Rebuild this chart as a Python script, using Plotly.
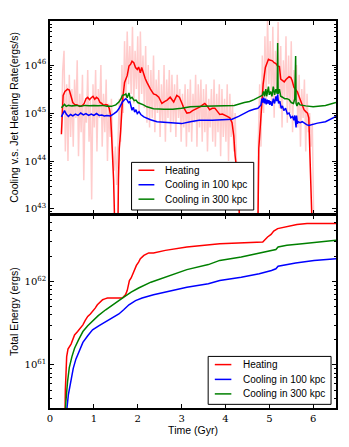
import plotly.graph_objects as go

# ---------------- Top panel: rates (log10 erg/s) ----------------
heat_t = [0.26,0.28,0.30,0.34,0.40,0.44,0.48,0.52,0.56,0.62,0.68,0.74,0.78,0.82,0.86,0.90,0.94,0.98,1.02,1.06,1.10,1.14,1.18,1.22,1.27,1.31,1.35,1.38,1.40,1.42,1.45,1.48,1.50,1.53,1.56,1.58,1.61,1.63,1.65,1.70,1.76,1.80,1.84,1.87,1.91,1.95,1.99,2.02,2.06,2.09,2.13,2.17,2.21,2.25,2.29,2.36,2.42,2.48,2.55,2.61,2.67,2.74,2.78,2.82,2.89,2.95,3.00,3.04,3.12,3.19,3.25,3.30,3.36,3.42,3.48,3.53,3.58,3.64,3.70,3.76,3.82,3.87,3.93,3.98,4.04,4.10,4.15,4.19,4.22,4.27,4.31,4.35,4.72,4.76,4.79,4.84,4.86,4.91,4.98,5.03,5.07,5.11,5.15,5.19,5.23,5.26,5.30,5.34,5.38,5.41,5.45,5.49,5.52,5.56,5.60,5.64,5.68,5.73,5.79,5.83,5.87,5.90,5.92,5.94,5.97,6.00,6.03]
heat_log = [44.56,45.2,45.37,45.45,45.50,45.48,45.35,45.22,45.18,45.17,45.14,45.16,45.20,45.30,45.33,45.28,45.32,45.35,45.29,45.33,45.30,45.22,45.20,45.16,45.18,45.17,45.10,44.96,44.62,44.27,43.6,42.5,41.0,41.0,43.6,44.27,44.62,45.0,45.23,45.64,45.78,45.98,46.02,46.08,46.05,45.95,45.91,45.96,45.84,45.95,45.82,45.72,45.64,45.55,45.50,45.40,45.38,45.33,45.20,45.24,45.27,45.33,45.28,45.23,45.37,45.33,45.22,45.13,45.00,45.01,45.05,45.07,45.10,45.13,45.17,45.20,45.15,45.07,45.10,45.10,45.03,44.97,44.98,44.95,44.93,44.90,44.80,44.52,44.11,43.70,43.16,41.0,41.0,44.26,44.66,45.13,45.61,45.95,46.12,46.10,46.09,46.05,46.03,45.98,45.97,45.71,45.68,45.65,45.70,45.72,45.76,45.74,45.68,45.54,45.48,45.44,45.34,45.20,45.07,45.03,45.00,44.90,44.55,44.11,43.70,43.16,41.0]

c100_t = [0.26,0.30,0.33,0.37,0.42,0.47,0.52,0.58,0.64,0.70,0.76,0.82,0.88,0.94,1.00,1.06,1.12,1.18,1.24,1.30,1.38,1.46,1.52,1.57,1.62,1.65,1.70,1.73,1.76,1.79,1.82,1.85,1.87,1.90,1.93,1.96,1.99,2.03,2.07,2.14,2.21,2.29,2.44,2.60,2.82,3.00,3.20,3.40,3.70,3.95,4.15,4.30,4.43,4.55,4.65,4.74,4.81,4.83,4.85,4.87,4.89,4.91,4.93,4.95,4.97,4.99,5.01,5.03,5.06,5.09,5.12,5.15,5.17,5.19,5.21,5.24,5.27,5.30,5.33,5.37,5.41,5.45,5.49,5.53,5.56,5.58,5.60,5.61,5.62,5.64,5.66,5.70,5.75,5.80,5.85,5.90,6.00,6.10,6.28,6.40,6.52]
c100_log = [44.92,45.00,45.05,44.98,44.93,44.97,44.94,44.98,44.95,45.00,44.96,44.99,44.95,44.98,44.95,44.99,44.95,44.96,44.94,44.95,44.94,44.99,45.03,45.09,45.18,45.23,45.28,45.30,45.27,45.22,45.24,45.15,45.06,45.12,45.02,45.07,44.99,45.03,44.97,44.92,44.89,44.86,44.82,44.81,44.79,44.78,44.82,44.85,44.85,44.86,44.87,44.93,45.00,45.05,45.08,45.10,45.17,45.30,45.22,45.32,45.20,45.30,45.18,45.28,45.20,45.27,45.17,45.25,45.15,45.30,45.20,45.35,45.25,45.39,45.20,45.25,45.10,45.15,45.05,45.10,44.98,45.00,44.90,44.93,44.85,44.95,44.79,44.70,44.95,44.78,44.82,44.80,44.82,44.78,44.76,44.74,44.77,44.79,44.82,44.87,44.93]

c300_t = [0.26,0.30,0.33,0.37,0.42,0.50,0.60,0.70,0.80,0.90,1.00,1.10,1.20,1.30,1.40,1.50,1.57,1.62,1.65,1.70,1.73,1.76,1.80,1.83,1.87,1.92,1.96,2.00,2.06,2.13,2.21,2.36,2.60,2.80,3.00,3.20,3.50,3.90,4.20,4.43,4.55,4.65,4.74,4.84,4.87,4.89,4.92,4.94,4.98,5.00,5.03,5.06,5.09,5.12,5.15,5.18,5.19,5.20,5.23,5.26,5.30,5.35,5.40,5.45,5.50,5.55,5.58,5.60,5.61,5.63,5.66,5.70,5.83,6.00,6.28,6.52]
c300_log = [45.11,45.16,45.18,45.14,45.16,45.15,45.16,45.14,45.16,45.15,45.16,45.15,45.16,45.14,45.14,45.17,45.23,45.30,45.37,45.38,45.40,45.32,45.42,45.30,45.33,45.26,45.27,45.22,45.20,45.17,45.13,45.09,45.08,45.08,45.10,45.13,45.14,45.15,45.16,45.22,45.24,45.28,45.33,45.37,45.45,45.35,45.50,45.35,45.55,45.38,45.45,45.35,45.55,45.38,45.50,45.40,46.46,45.40,45.50,45.35,45.33,45.30,45.30,45.28,45.22,45.20,45.30,46.19,45.20,45.15,45.22,45.17,45.15,45.13,45.16,45.22]

# raw (unsmoothed) jet heating rate, light pink
raw_t = [0.26,0.29,0.32,0.35,0.38,0.41,0.44,0.47,0.50,0.53,0.56,0.59,0.62,0.65,0.68,0.71,0.74,0.77,0.80,0.83,
         0.86,0.89,0.92,0.95,0.98,1.01,1.04,1.07,1.10,1.13,1.16,1.19,1.22,1.25,1.28,1.31,1.34,1.37,1.40,1.43,
         1.46,1.49,1.52,1.55,
         1.58,1.61,1.64,1.67,1.70,1.73,1.76,1.79,1.82,1.85,
         1.88,1.91,1.94,1.97,2.00,2.03,2.06,2.09,2.12,2.15,
         2.18,2.21,2.24,2.27,2.30,2.33,2.36,2.39,2.42,2.45,
         2.48,2.51,2.54,2.57,2.60,2.63,2.66,2.69,2.72,2.75,
         2.78,2.81,2.84,2.87,2.90,2.93,2.96,2.99,3.02,3.05,
         3.08,3.11,3.14,3.17,3.20,3.23,3.26,3.29,3.32,3.35,
         3.38,3.41,3.44,3.47,3.50,3.53,3.56,3.59,3.62,3.65,
         3.68,3.71,3.74,3.77,3.80,3.83,3.86,3.89,3.92,3.95,
         3.98,4.01,4.04,4.07,4.10,4.13,4.16,4.19,4.22,4.25,
         4.28,4.31,4.34,4.72,
         4.75,4.78,4.81,4.84,4.87,4.90,4.93,4.96,4.99,5.02,
         5.05,5.08,5.11,5.14,5.17,5.20,5.23,5.26,5.29,5.32,
         5.35,5.38,5.41,5.44,5.47,5.50,5.53,5.56,5.59,5.62,
         5.65,5.68,5.71,5.74,5.77,5.80,5.83,5.86,5.89,5.92,
         5.95,5.98,6.01,6.04]
raw_log = [44.6,45.9,46.3,44.2,45.6,44.0,45.8,44.5,45.5,44.3,45.7,44.9,46.1,44.1,45.4,44.6,45.8,43.6,45.2,44.8,
           45.9,44.4,45.3,43.2,45.6,44.7,45.9,44.2,45.5,44.9,46.0,44.3,45.4,44.6,45.7,44.0,45.2,44.5,45.3,44.2,
           43.8,44.3,43.5,44.6,
           45.3,44.4,46.0,45.0,46.5,45.3,46.7,45.6,46.4,45.4,
           46.8,45.2,46.3,45.5,46.6,45.0,46.7,45.4,46.2,45.1,
           46.4,44.8,46.0,44.7,45.9,44.9,46.2,44.6,45.7,45.0,
           45.9,44.5,45.6,44.8,46.0,44.4,45.7,44.9,45.9,44.6,
           45.8,44.8,45.6,44.5,45.8,44.9,45.5,44.4,45.4,44.7,
           45.6,44.3,45.5,44.6,45.7,44.4,45.4,44.8,45.8,44.3,
           45.6,44.7,45.7,44.4,45.5,44.6,45.6,44.2,45.3,44.7,
           45.5,44.4,45.7,44.3,45.4,44.6,45.6,44.1,45.5,44.5,
           45.3,44.4,45.6,44.0,45.4,44.5,45.2,44.2,45.0,44.0,
           43.8,43.4,41.0,41.0,
           44.5,45.6,44.3,46.2,45.0,46.6,45.3,47.0,45.6,46.5,
           45.2,46.8,44.9,46.3,45.5,46.9,45.1,46.4,44.7,46.1,
           45.3,46.6,44.8,46.2,45.0,46.5,44.6,45.9,45.2,46.0,
           44.7,45.8,44.3,45.5,44.9,45.7,44.2,45.4,44.6,45.0,
           44.3,44.8,43.6,41.0]

# ---------------- Bottom panel: cumulative energy (log10 erg) ----------------
eheat_t = [0.33,0.35,0.38,0.41,0.48,0.52,0.56,0.63,0.70,0.75,0.80,0.86,0.92,0.97,1.03,1.08,1.14,1.20,1.25,1.31,1.65,1.72,1.76,1.79,1.81,1.85,1.89,1.93,1.97,2.02,2.06,2.14,2.25,2.36,2.63,3.12,3.87,4.85,4.90,4.96,5.04,5.10,5.19,5.35,5.49,5.63,5.86,6.52]
eheat_log = [60.0,60.7,61.1,61.19,61.25,61.30,61.36,61.40,61.44,61.48,61.53,61.58,61.61,61.64,61.68,61.72,61.75,61.78,61.79,61.80,61.80,61.84,61.89,61.95,62.01,62.04,62.09,62.14,62.19,62.23,62.27,62.31,62.34,62.34,62.37,62.41,62.45,62.47,62.50,62.53,62.56,62.60,62.63,62.65,62.66,62.68,62.69,62.69]

e100_t = [0.35,0.38,0.42,0.48,0.53,0.59,0.67,0.75,0.86,0.97,1.12,1.27,1.42,1.57,1.68,1.80,1.95,2.10,2.36,2.63,3.12,3.61,3.87,4.36,4.77,5.05,5.15,5.20,5.40,5.60,6.02,6.52]
e100_log = [60.0,60.45,60.65,60.84,60.96,61.07,61.18,61.27,61.35,61.42,61.47,61.52,61.56,61.61,61.66,61.72,61.77,61.80,61.84,61.87,61.93,61.97,62.01,62.05,62.09,62.13,62.15,62.18,62.20,62.22,62.25,62.27]

e300_t = [0.32,0.36,0.40,0.44,0.50,0.56,0.65,0.75,0.86,0.97,1.10,1.27,1.45,1.65,1.85,2.02,2.30,2.63,3.12,3.61,3.87,4.36,4.77,5.05,5.15,5.20,5.40,5.75,6.10,6.52]
e300_log = [60.0,60.55,60.8,60.97,61.10,61.20,61.30,61.40,61.47,61.53,61.59,61.66,61.73,61.80,61.87,61.92,61.99,62.05,62.14,62.20,62.25,62.29,62.34,62.37,62.38,62.41,62.43,62.45,62.47,62.49]

x_ticks = [0, 1, 2, 3, 4, 5, 6]
top_decades = [43, 44, 45, 46]
bot_decades = [61, 62]
names = ["Heating", "Cooling in 100 kpc", "Cooling in 300 kpc"]

RED, BLUE, GREEN, PINK = "#ff0000", "#0000ff", "#008000", "rgba(255,0,0,0.2)"
COLORS = [RED, BLUE, GREEN]

# ---- page geometry (browser body has an 8px default margin) ----
OFF = 8
W, H = 333, 431
PL, PR, PT, PB = 48.7, 337.3, 20.7, 413.0  # plot area in page pixels
HALF = 0.75 / (PB - PT)  # so both panels' 1.5px frame lines coincide


def xp(px):
    return (px - PL) / (PR - PL)


def yp(py):
    return (PB - py) / (PB - PT)


def pw(v):
    return [10.0 ** x for x in v]


fig = go.Figure()
fig.add_trace(go.Scatter(x=raw_t, y=pw(raw_log), mode="lines", line=dict(color=PINK, width=1.5),
                         showlegend=False, xaxis="x", yaxis="y", hoverinfo="skip"))
for t, v, c, n in zip([heat_t, c100_t, c300_t], [heat_log, c100_log, c300_log], COLORS, names):
    fig.add_trace(go.Scatter(x=t, y=pw(v), mode="lines", line=dict(color=c, width=1.5), name=n,
                             xaxis="x", yaxis="y", showlegend=False))
for t, v, c, n in zip([eheat_t, e100_t, e300_t], [eheat_log, e100_log, e300_log], COLORS, names):
    fig.add_trace(go.Scatter(x=t, y=pw(v), mode="lines", line=dict(color=c, width=1.5), name=n,
                             xaxis="x2", yaxis="y2", showlegend=False))


def minor_vals(decs):
    out = []
    for d in decs:
        for m in range(2, 10):
            out.append(m * 10.0 ** d)
    return out


# ---- hand-built legends (box, line samples, labels) ----
shapes, annos = [], []
legend_specs = [
    # box left, right, top, bottom, line x0, x1, text x, entry y centres
    (131, 254.3, 164, 212.3, 138, 154, 163, [172, 186.7, 201.3]),
    (208.3, 332.3, 360.7, 409.3, 215, 231.7, 241.7, [369, 384, 398.7]),
]
for bl, br, bt, bb, lx0, lx1, tx, ys in legend_specs:
    shapes.append(dict(type="rect", xref="paper", yref="paper", x0=xp(bl), x1=xp(br), y0=yp(bb), y1=yp(bt),
                       line=dict(color="black", width=1), fillcolor="white", layer="above"))
    for yy, c, n in zip(ys, COLORS, names):
        shapes.append(dict(type="line", xref="paper", yref="paper", x0=xp(lx0), x1=xp(lx1), y0=yp(yy), y1=yp(yy),
                           line=dict(color=c, width=1.5), layer="above"))
        annos.append(dict(text=n, xref="paper", yref="paper", x=xp(tx), y=yp(yy), xanchor="left",
                          yanchor="middle", showarrow=False,
                          font=dict(family="Liberation Sans", size=10, color="black")))

tickfont = dict(family="DejaVu Serif", size=10, color="black")
titlefont = dict(family="Liberation Sans", size=10.5, color="black")
common_x = dict(range=[0, 6.52], showline=True, linecolor="black", linewidth=1.5, mirror="ticks",
                ticks="inside", ticklen=4, tickcolor="black", tickvals=x_ticks, showgrid=False,
                zeroline=False, tickfont=tickfont)
common_y = dict(type="log", showline=True, linecolor="black", linewidth=1.5, mirror="ticks",
                ticks="inside", ticklen=4, tickcolor="black", showgrid=False, zeroline=False,
                tickfont=tickfont)

fig.update_layout(
    width=W, height=H,
    margin=dict(l=PL - OFF, r=OFF + W - PR, t=PT - OFF, b=OFF + H - PB, pad=0),
    paper_bgcolor="white", plot_bgcolor="white",
    showlegend=False,
    shapes=shapes, annotations=annos,
    xaxis=dict(common_x, domain=[0, 1], anchor="y", showticklabels=False),
    yaxis=dict(common_y, domain=[0.5 + HALF, 1], anchor="x", range=[42.9, 46.92],
               tickvals=[10.0 ** d for d in top_decades],
               ticktext=[f"10<sup>{d}</sup>" for d in top_decades],
               minor=dict(tickvals=minor_vals([42, 43, 44, 45, 46]), ticks="inside", ticklen=2,
                          tickcolor="black", showgrid=False),
               title=dict(text="Cooling v.s. Jet Heating Rate(ergs/s)", font=titlefont, standoff=6)),
    xaxis2=dict(common_x, domain=[0, 1], anchor="y2",
                title=dict(text="Time (Gyr)", font=titlefont, standoff=4)),
    yaxis2=dict(common_y, domain=[0, 0.5 - HALF], anchor="x2", range=[60.486, 62.79],
                tickvals=[10.0 ** d for d in bot_decades],
                ticktext=[f"10<sup>{d}</sup>" for d in bot_decades],
                minor=dict(tickvals=minor_vals([60, 61, 62]), ticks="inside", ticklen=2,
                           tickcolor="black", showgrid=False),
                title=dict(text="Total Energy (ergs)", font=titlefont, standoff=6)),
)

fig.write_html("out.html")
